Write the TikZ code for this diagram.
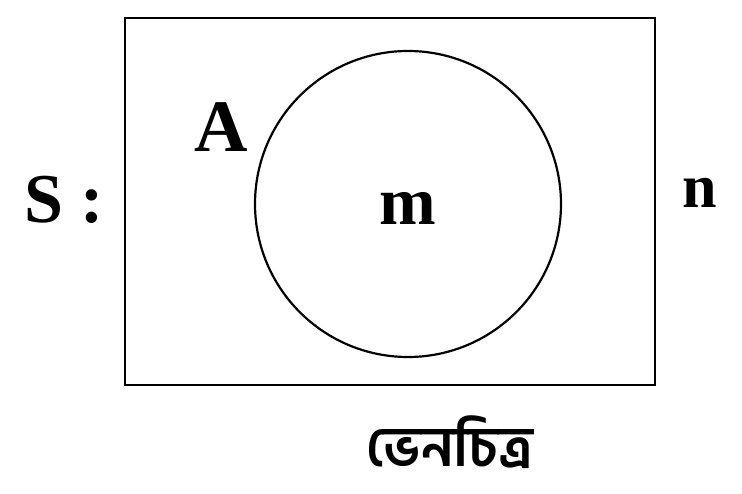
\documentclass[tikz,border=0pt]{standalone}
\usepackage{fontspec}
\setmainfont{Liberation Serif}
\newfontfamily\bnfont[Script=Bengali]{Hind Siliguri}
\begin{document}
\begin{tikzpicture}[x=1pt,y=-1pt,
  lbl/.style={font=\fontsize{#1}{#1}\selectfont\bfseries, inner sep=0pt},
  frame/.style={draw, line width=2.6pt}]
\useasboundingbox (0,0) rectangle (742,494);
\node[frame, minimum width=530pt, minimum height=367pt, inner sep=0pt] (S) at (390,201.5) {};
\node[frame, circle, minimum size=306pt, inner sep=0pt, line width=2.2pt] (A) at (408,204) {};
\node[lbl=70, anchor=base west] (s) at (24,223) {S :};
\node[lbl=74, anchor=base] (a) at (221,152) {A};
\node[lbl=68, anchor=base] (m) at (408,225) {m};
\node[lbl=62, anchor=base] (n) at (700,208) {n};
\node[inner sep=0pt, font=\bnfont\fontsize{56}{56}\selectfont\bfseries] (cap) at (450,442) {ভেনচিত্র};
\end{tikzpicture}
\end{document}
